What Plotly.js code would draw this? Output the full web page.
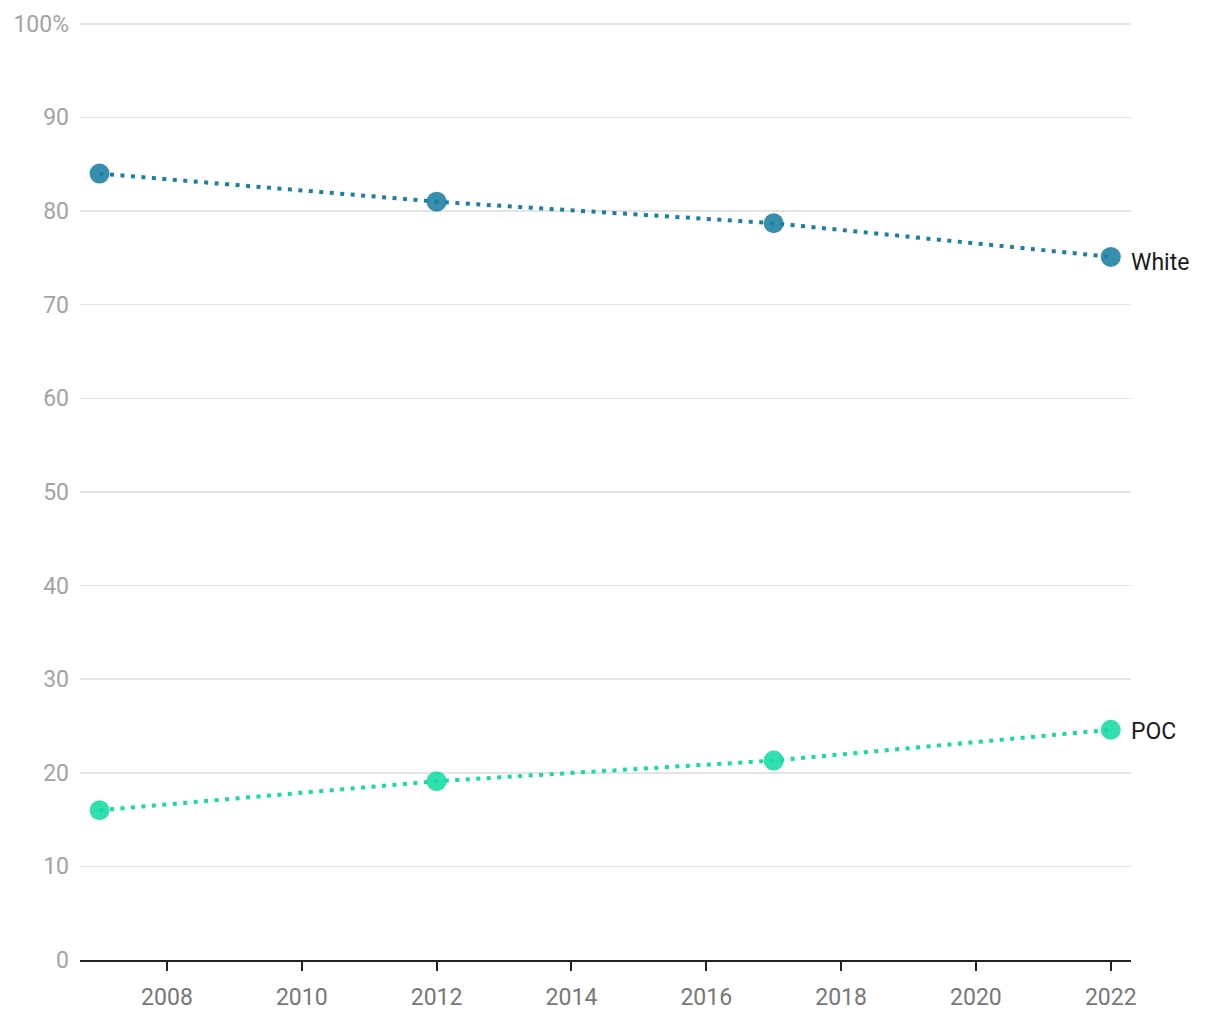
<!DOCTYPE html>
<html><head><meta charset="utf-8">
<script src="https://cdn.plot.ly/plotly-3.0.1.min.js"></script>
<style>html,body{margin:0;padding:0;background:#fff}#chart{width:1220px;height:1020px}</style>
</head><body><div id="chart"></div>
<script>
const years = [2007, 2012, 2017, 2022];
const whiteVals = [84.0, 81.0, 78.7, 75.1];
const pocVals = [16.0, 19.1, 21.3, 24.6];
const seriesNames = ["White", "POC"];
const yTickVals = [0,10,20,30,40,50,60,70,80,90,100];
const yTickText = ["0","10","20","30","40","50","60","70","80","90","100%"];

const colWhite = "#1b7fa2";
const colPoc = "#14dca2";

function trace(vals, name, col){
  return {x: years, y: vals, name: name, type: "scatter", mode: "lines+markers",
    line: {color: col, width: 4, dash: "4px,6.5px"},
    marker: {color: col, size: 20, opacity: 0.88},
    hoverinfo: "x+y", showlegend: false};
}
const data = [trace(whiteVals, seriesNames[0], colWhite), trace(pocVals, seriesNames[1], colPoc)];

const annotations = [
  {x: years[3], y: whiteVals[3], text: seriesNames[0], yshift: -6},
  {x: years[3], y: pocVals[3], text: seriesNames[1], yshift: -2}
].map(a => Object.assign({xref:"x", yref:"y", xanchor:"left", yanchor:"middle", xshift: 18,
  showarrow:false, font:{family:"Roboto", size:23, color:"#1a1a1a"}}, a));

const layout = {
  width: 1220, height: 1020,
  margin: {l: 80, r: 89, t: 21, b: 60},
  paper_bgcolor: "#fff", plot_bgcolor: "#fff",
  font: {family: "Roboto", size: 23},
  xaxis: {range: [2006.71, 2022.3], tick0: 2008, dtick: 2, showgrid: false, zeroline: false,
    showline: true, linecolor: "#222", linewidth: 2,
    ticks: "outside", ticklen: 9, tickwidth: 2, tickcolor: "#222",
    tickfont: {family: "Roboto", size: 23, color: "#777"}, ticklabelstandoff: 6},
  yaxis: {range: [0, 100.3], tickvals: yTickVals, ticktext: yTickText,
    showgrid: true, gridcolor: "#e4e4e4", gridwidth: 1.5, zeroline: false, showline: false,
    ticks: "", tickfont: {family: "Roboto", size: 23, color: "#a3a3a3"}, ticklabelstandoff: 10},
  annotations: annotations
};
Plotly.newPlot("chart", data, layout, {displayModeBar: false, staticPlot: true});
</script></body></html>
